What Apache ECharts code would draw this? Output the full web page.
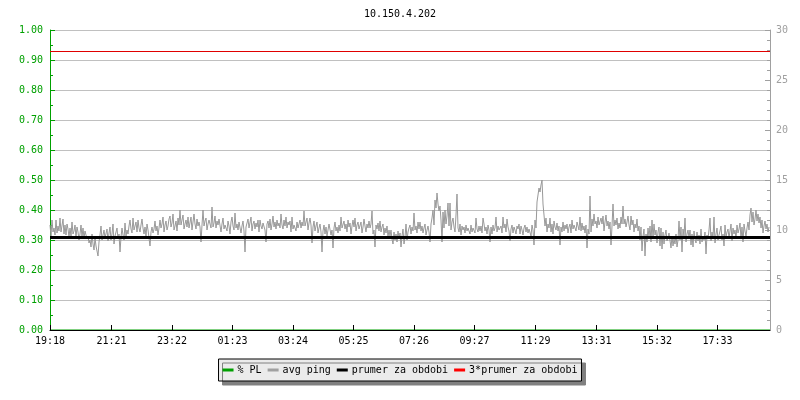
<!DOCTYPE html>
<html>
<head>
<meta charset="utf-8">
<script src="https://cdn.jsdelivr.net/npm/echarts@6/dist/echarts.min.js"></script>
<style>html,body{margin:0;padding:0;background:#fff}#c{width:800px;height:400px}</style>
</head>
<body>
<div id="c"></div>
<script>
// ---- data ----
var titleText = '10.150.4.202';
var seriesNames = ['% PL', 'avg ping', 'prumer za obdobi', '3*prumer za obdobi'];
// x tick labels and their offsets in minutes from start (19:18)
var tickLabels = ['19:18','21:21','23:22','01:23','03:24','05:25','07:26','09:27','11:29','13:31','15:32','17:33'];
var tickMinutes = [0,123,244,365,486,607,728,849,971,1093,1214,1335];
var spanMinutes = 1440;
var stepMinutes = 2; // one ping sample every 2 minutes
// avg ping (ms), right axis
var avgPing = [
 10.5,9.4,11.0,9.8,10.2,9.5,11.0,9.7,10.4,9.9,
 11.2,9.8,10.0,11.1,9.6,10.5,9.5,10.6,10.1,9.3,
 10.2,9.4,10.8,9.6,9.9,10.5,9.3,10.3,9.8,9.0,
 9.6,10.5,9.3,10.2,9.2,9.9,10.0,9.1,9.4,8.7,
 9.0,8.3,9.6,8.6,8.0,9.2,8.4,7.9,7.4,8.8,
 9.5,10.4,9.0,9.1,10.0,9.2,9.3,10.1,8.9,9.7,
 10.3,9.0,9.6,10.6,8.6,9.4,9.8,10.2,9.1,9.6,
 7.8,9.3,10.2,9.5,9.0,10.7,9.4,10.0,9.6,10.4,
 11.0,10.1,9.7,11.2,10.0,10.4,10.8,9.8,11.0,10.2,
 9.8,10.5,11.1,10.2,9.6,10.3,9.4,10.6,10.0,9.9,
 8.4,9.8,10.3,9.7,10.1,10.9,9.9,10.4,9.5,10.2,
 11.0,10.2,10.6,11.3,9.8,10.5,10.9,10.0,10.4,11.1,
 11.4,10.3,10.7,11.6,10.0,10.4,10.9,9.9,11.2,10.5,
 12.0,10.5,11.0,11.5,10.1,10.6,11.0,10.3,11.3,10.2,
 10.4,11.3,10.0,10.2,11.6,10.6,10.1,11.1,10.4,10.8,
 10.3,8.8,10.5,12.0,10.4,10.9,11.2,10.0,10.6,11.0,
 10.8,10.2,12.3,10.3,10.7,11.4,10.2,10.9,10.5,11.1,
 11.0,9.8,10.6,11.2,10.1,10.5,10.7,9.9,10.9,10.4,
 9.6,10.8,11.3,10.4,10.0,11.7,10.2,10.6,10.0,10.8,
 10.8,9.7,10.4,10.9,9.9,7.8,10.3,10.5,11.1,10.2,
 10.2,11.3,9.9,10.6,10.9,10.1,10.7,10.3,11.0,9.8,
 11.0,10.4,10.1,10.7,10.5,10.0,8.8,10.6,10.9,10.2,
 11.1,10.0,10.6,11.4,10.3,10.8,10.1,11.0,10.4,10.7,
 10.2,11.6,10.5,10.1,11.0,10.4,11.3,10.2,10.8,10.5,
 10.9,9.8,11.3,10.1,10.5,10.6,9.9,10.8,10.2,10.4,
 11.0,10.2,10.8,10.4,11.9,10.4,10.6,11.2,10.0,10.7,
 11.2,10.5,8.7,10.3,10.9,9.9,10.4,10.8,9.7,10.2,
 10.6,9.8,7.8,9.9,10.5,9.6,10.3,9.4,10.0,10.6,
 10.4,9.5,10.0,8.2,10.2,10.8,9.9,10.3,9.7,10.5,
 9.9,11.3,10.2,10.4,10.9,10.1,10.6,9.8,11.0,10.3,
 10.7,9.6,10.4,11.0,10.3,11.2,9.9,10.5,10.8,10.1,
 10.0,10.8,9.7,10.3,11.1,10.4,9.8,10.6,10.2,10.9,
 10.2,10.6,11.9,9.6,10.0,8.3,10.5,10.1,10.7,9.9,
 10.9,9.8,10.3,10.6,9.5,10.2,9.7,10.4,9.3,10.0,
 9.4,10.0,9.1,8.6,9.8,9.0,9.6,8.8,9.9,9.2,
 9.7,8.3,9.4,10.1,8.6,9.3,10.6,9.0,9.8,10.2,
 10.5,9.6,10.3,9.9,11.7,10.0,10.4,9.7,10.8,10.1,
 10.8,9.9,10.4,9.7,10.2,10.6,9.5,10.0,10.4,9.8,
 8.8,10.6,11.2,12.0,10.5,13.0,12.2,13.7,12.6,11.9,
 12.4,11.0,8.8,11.8,10.2,12.0,10.6,11.4,12.7,10.4,
 12.7,10.0,10.8,11.2,10.3,9.8,11.5,13.6,10.2,9.8,
 10.6,9.5,10.4,10.0,10.3,9.7,10.5,9.9,10.2,10.4,
 9.6,10.5,9.8,10.2,10.0,9.7,11.2,10.1,9.8,10.4,
 9.9,10.4,9.7,11.2,10.6,9.9,10.3,9.6,10.5,10.0,
 8.8,10.3,9.6,10.5,9.9,10.2,11.3,9.8,10.4,10.0,
 9.8,10.4,9.7,11.3,10.2,10.6,9.8,11.1,10.3,9.9,
 8.9,10.1,10.5,9.7,10.3,10.0,9.6,10.4,10.1,10.6,
 9.6,10.4,10.0,9.5,10.2,10.5,9.8,10.3,9.7,10.1,
 10.3,9.4,10.5,10.0,8.5,11.0,10.2,12.8,13.5,14.2,
 13.8,14.5,15.0,12.6,11.5,10.4,11.2,9.8,10.6,10.2,
 11.2,9.8,10.6,9.6,10.9,10.3,10.0,10.7,9.9,10.4,
 8.5,10.3,9.8,10.8,9.9,10.5,10.1,10.6,9.7,10.3,
 10.6,9.7,11.0,10.1,10.5,10.2,9.9,10.8,10.4,10.0,
 11.3,9.9,10.7,10.0,10.4,9.7,10.5,8.2,10.1,9.6,
 13.4,9.8,11.1,10.4,11.6,10.6,10.9,10.2,11.3,10.5,
 10.3,11.2,10.6,11.4,9.9,10.8,11.5,10.4,10.9,10.1,
 10.8,8.5,10.4,12.6,10.4,11.0,10.5,11.2,10.1,10.7,
 10.2,11.3,10.6,12.4,10.6,11.1,10.3,10.8,11.4,10.5,
 10.0,11.4,10.5,11.0,9.8,10.6,10.2,11.1,9.9,10.4,
 9.0,10.3,7.9,9.4,10.1,7.4,9.6,8.8,10.2,9.3,
 10.4,8.8,11.0,9.2,10.6,9.5,10.0,8.7,9.8,10.3,
 8.4,10.2,8.1,9.8,8.6,9.5,10.0,8.9,9.3,9.7,
 9.7,8.2,9.4,8.4,9.1,8.6,9.6,8.3,9.0,10.9,
 9.0,10.3,7.8,10.1,9.4,11.2,8.8,9.6,10.0,9.2,
 10.0,8.5,9.6,8.3,9.9,9.1,8.7,9.8,8.9,9.5,
 8.6,10.1,8.8,9.4,9.0,9.8,7.6,9.5,9.1,10.0,
 11.2,8.9,9.8,9.2,11.3,8.7,9.6,10.2,9.0,9.5,
 9.9,10.4,9.0,9.6,8.4,10.5,9.3,9.8,10.1,9.2,
 9.4,10.6,8.9,10.2,9.6,10.0,9.2,10.5,9.7,10.1,
 10.7,9.1,10.3,8.8,10.6,9.9,9.4,10.2,10.8,10.0,
 11.5,12.2,10.8,11.8,10.5,11.1,12.0,10.9,11.6,10.7,
 11.3,10.2,11.0,9.7,10.4,10.9,10.1,10.6,9.8,10.3
];
var packetLoss = [0, 0];      // % PL, left axis (start, end)
var periodAvg = 9.25;         // prumer za obdobi (ms)
var periodAvg3 = 27.85;       // 3*prumer za obdobi (ms)

// ---- build ----
var pingData = avgPing.map(function (v, i) { return [i * stepMinutes, v]; });
var plData = packetLoss.map(function (v, i) { return [i * spanMinutes, v]; });
var avgData = [[0, periodAvg], [spanMinutes, periodAvg]];
var avg3Data = [[0, periodAvg3], [spanMinutes, periodAvg3]];

var FONT = 'DejaVu Sans Mono';
var GREEN = '#00a000', GRAY = '#a0a0a0';

var chart = echarts.init(document.getElementById('c'), null, { renderer: 'canvas' });
chart.setOption({
  animation: false,
  backgroundColor: '#ffffff',
  title: {
    text: titleText, left: 'center', top: 4,
    textStyle: { fontFamily: FONT, fontSize: 10, fontWeight: 'normal', color: '#000' }
  },
  legend: {
    data: seriesNames, left: 'center', top: 359,
    backgroundColor: '#ebebeb', borderColor: '#000', borderWidth: 1,
    shadowColor: '#808080', shadowOffsetX: 4, shadowOffsetY: 4, shadowBlur: 0,
    padding: [6, 4], itemGap: 6, itemWidth: 11, itemHeight: 3, icon: 'rect',
    textStyle: { fontFamily: FONT, fontSize: 10, color: '#000', padding: [0, 0, 0, -1] }
  },
  grid: { left: 50, right: 30, top: 30, bottom: 70, containLabel: false },
  xAxis: {
    type: 'value', min: 0, max: spanMinutes, z: 5,
    axisLine: { lineStyle: { color: '#000', width: 1 } },
    axisTick: { show: true, inside: true, length: 5, customValues: tickMinutes, lineStyle: { color: '#000' } },
    axisLabel: {
      customValues: tickMinutes, margin: 6,
      fontFamily: FONT, fontSize: 10, color: '#000',
      formatter: function (v) { var i = tickMinutes.indexOf(v); return i >= 0 ? tickLabels[i] : ''; }
    },
    splitLine: { show: false }
  },
  yAxis: [
    {
      type: 'value', min: 0, max: 1, interval: 0.1, position: 'left',
      axisLine: { show: true, lineStyle: { color: GREEN } },
      axisTick: { show: true, inside: true, length: 5, lineStyle: { color: GREEN } },
      minorTick: { show: true, splitNumber: 2, length: 3, lineStyle: { color: GREEN } },
      axisLabel: { margin: 7, fontFamily: FONT, fontSize: 10, color: GREEN, formatter: function (v) { return v.toFixed(2); } },
      splitLine: { show: true, lineStyle: { color: '#c0c0c0', width: 1 } }
    },
    {
      type: 'value', min: 0, max: 30, interval: 5, position: 'right',
      axisLine: { show: true, lineStyle: { color: GRAY } },
      axisTick: { show: true, inside: true, length: 5, lineStyle: { color: GRAY } },
      minorTick: { show: true, splitNumber: 5, length: 3, lineStyle: { color: GRAY } },
      axisLabel: { margin: 6, fontFamily: FONT, fontSize: 10, color: GRAY },
      splitLine: { show: false }
    }
  ],
  series: [
    { name: seriesNames[0], type: 'line', yAxisIndex: 0, data: plData, showSymbol: false, z: 1,
      lineStyle: { color: GREEN, width: 1 }, itemStyle: { color: GREEN } },
    { name: seriesNames[1], type: 'line', yAxisIndex: 1, data: pingData, showSymbol: false,
      lineStyle: { color: '#999999', width: 1 }, itemStyle: { color: '#a0a0a0' } },
    { name: seriesNames[2], type: 'line', yAxisIndex: 1, data: avgData, showSymbol: false,
      lineStyle: { color: '#000', width: 3 }, itemStyle: { color: '#000' } },
    { name: seriesNames[3], type: 'line', yAxisIndex: 1, data: avg3Data, showSymbol: false,
      lineStyle: { color: '#e00000', width: 1 }, itemStyle: { color: '#ff0000' } }
  ]
});
</script>
</body>
</html>
